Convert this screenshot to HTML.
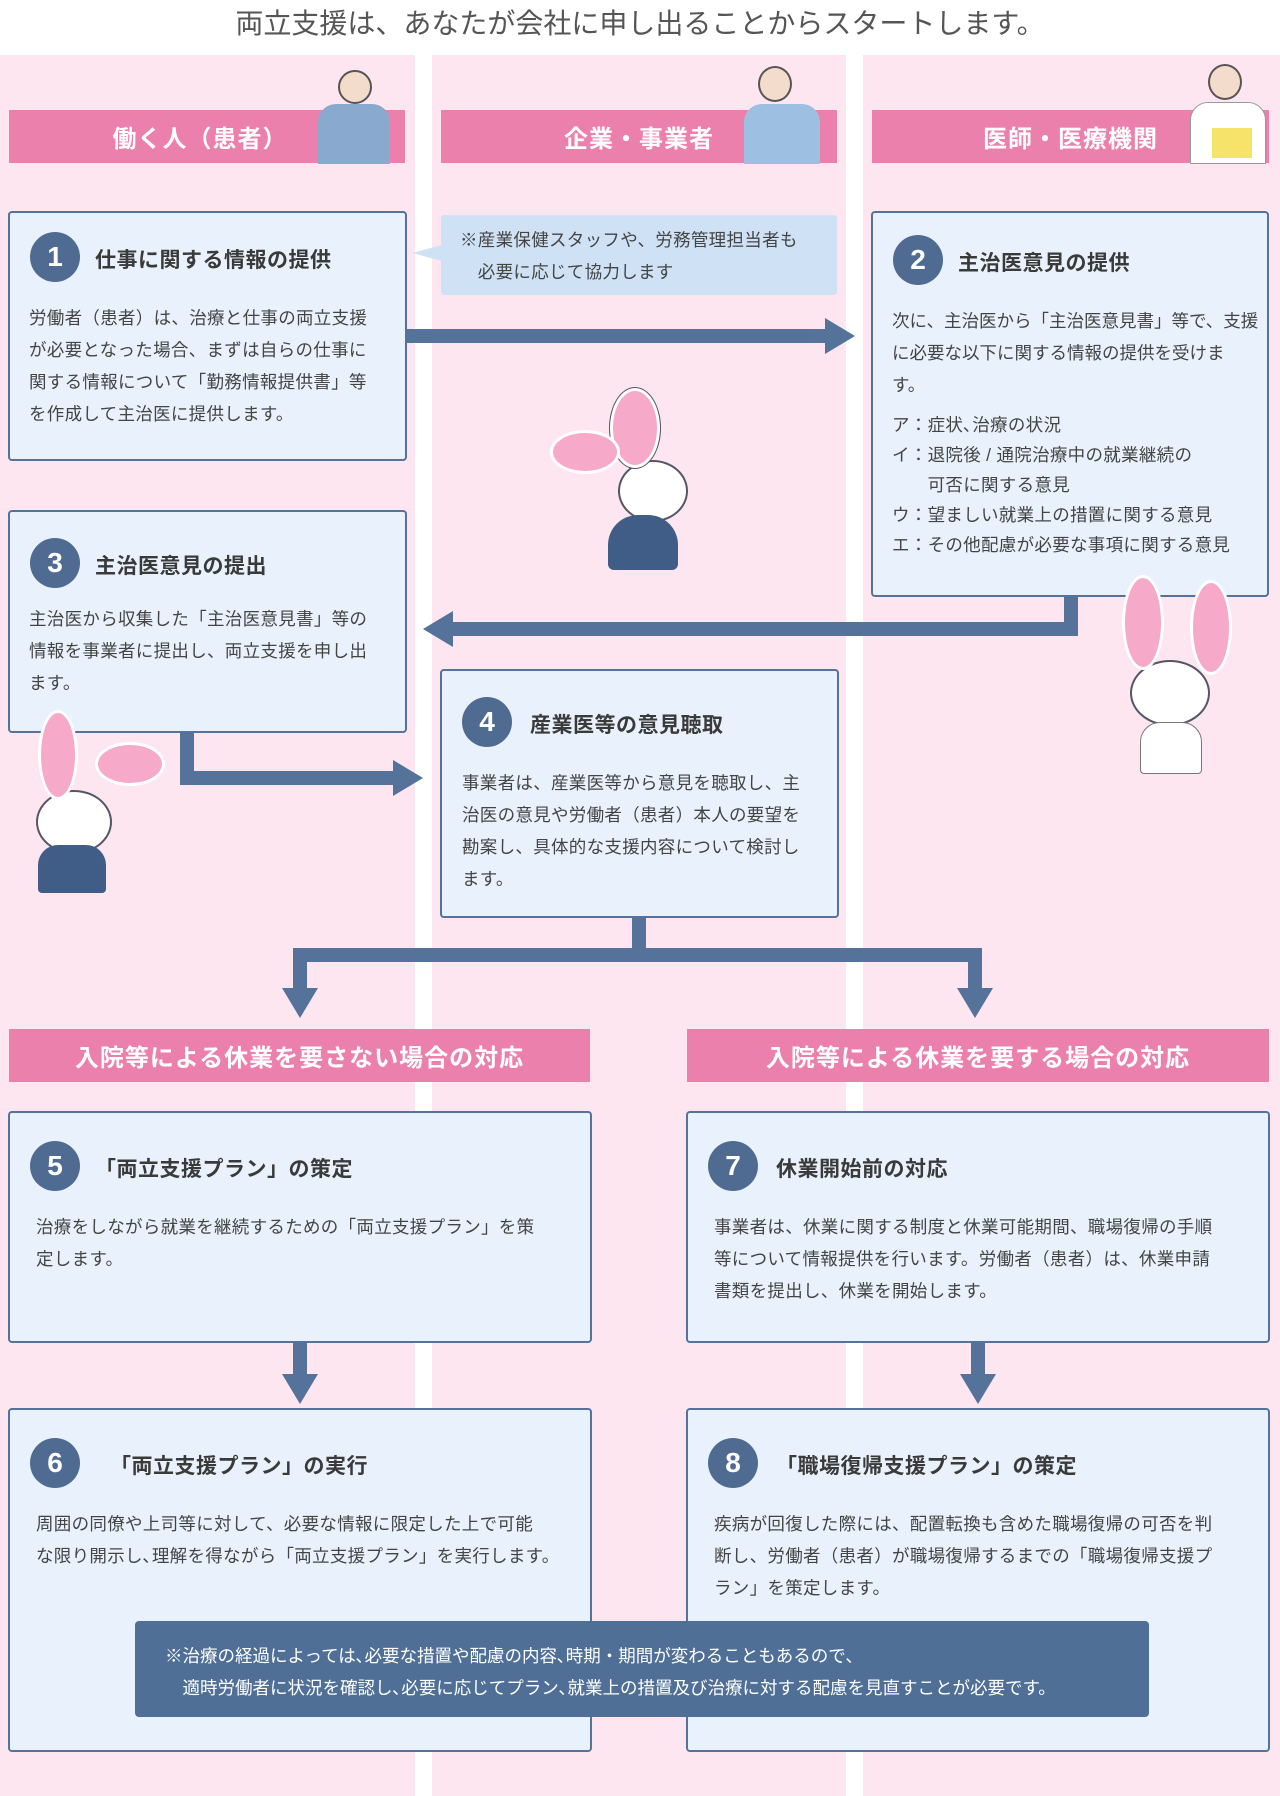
<!DOCTYPE html>
<html><head><meta charset="utf-8"><style>
*{margin:0;padding:0;box-sizing:border-box}
body{width:1280px;height:1796px;position:relative;background:#fff;font-family:"Liberation Sans","Noto Sans CJK JP",sans-serif;color:#3a3a3a;overflow:hidden}
.a{position:absolute}
.col{position:absolute;top:55px;bottom:0;background:#fde6f0}
.hd{position:absolute;background:#ec80ad;color:#fff;font-weight:bold;font-size:24px;display:flex;align-items:center;justify-content:center;letter-spacing:1px}
.bx{position:absolute;background:#e9f2fc;border:2.5px solid #55729b;border-radius:4px}
.num{position:absolute;width:50px;height:50px;border-radius:50%;background:#4f6b91;color:#fff;font-weight:bold;font-size:28px;text-align:center;line-height:50px}
.tt{position:absolute;font-weight:bold;font-size:21px;color:#3a3a3a;letter-spacing:0.5px}
.tx{position:absolute;font-size:17.5px;line-height:32px;color:#444;white-space:nowrap;letter-spacing:0.3px}
.ar{position:absolute;background:#55729b}
</style></head><body>
<div class="a" style="left:0;top:2px;width:1280px;text-align:center;font-size:28px;color:#555">両立支援は、あなたが会社に申し出ることからスタートします。</div>
<div class="col" style="left:0;width:415px"></div>
<div class="col" style="left:432px;width:414px"></div>
<div class="col" style="left:863px;width:417px"></div>

<div class="hd" style="left:9px;top:110px;width:396px;height:53px;padding-right:14px">働く人（患者）</div>
<div class="hd" style="left:441px;top:110px;width:396px;height:53px">企業・事業者</div>
<div class="hd" style="left:872px;top:110px;width:397px;height:53px">医師・医療機関</div>
<div class="a" style="left:338px;top:70px;width:34px;height:34px;border-radius:50%;background:#f3dccb;border:2px solid #555"></div>
<div class="a" style="left:318px;top:104px;width:72px;height:60px;background:#8aa9cf;border-radius:18px 18px 0 0"></div>
<div class="a" style="left:758px;top:66px;width:34px;height:36px;border-radius:50%;background:#f3dccb;border:2px solid #555"></div>
<div class="a" style="left:744px;top:104px;width:76px;height:60px;background:#9dc0e2;border-radius:18px 18px 0 0"></div>
<div class="a" style="left:1208px;top:64px;width:34px;height:36px;border-radius:50%;background:#f3dccb;border:2px solid #555"></div>
<div class="a" style="left:1190px;top:102px;width:76px;height:62px;background:#fff;border:1px solid #999;border-radius:18px 18px 0 0"></div>
<div class="a" style="left:1212px;top:128px;width:40px;height:30px;background:#f5e36a"></div>

<div class="ar" style="left:407px;top:329px;width:420px;height:14px"></div>
<div class="a" style="left:825px;top:318px;border-left:30px solid #55729b;border-top:18px solid transparent;border-bottom:18px solid transparent"></div>
<div class="ar" style="left:1064px;top:597px;width:14px;height:39px"></div>
<div class="ar" style="left:450px;top:622px;width:628px;height:14px"></div>
<div class="a" style="left:423px;top:611px;border-right:30px solid #55729b;border-top:18px solid transparent;border-bottom:18px solid transparent"></div>
<div class="ar" style="left:180px;top:733px;width:14px;height:52px"></div>
<div class="ar" style="left:180px;top:771px;width:215px;height:14px"></div>
<div class="a" style="left:393px;top:760px;border-left:30px solid #55729b;border-top:18px solid transparent;border-bottom:18px solid transparent"></div>
<div class="ar" style="left:632px;top:918px;width:14px;height:40px"></div>
<div class="ar" style="left:293px;top:948px;width:689px;height:14px"></div>
<div class="ar" style="left:293px;top:948px;width:14px;height:42px"></div>
<div class="ar" style="left:968px;top:948px;width:14px;height:42px"></div>
<div class="a" style="left:282px;top:988px;border-top:30px solid #55729b;border-left:18px solid transparent;border-right:18px solid transparent"></div>
<div class="a" style="left:957px;top:988px;border-top:30px solid #55729b;border-left:18px solid transparent;border-right:18px solid transparent"></div>
<div class="ar" style="left:293px;top:1343px;width:14px;height:32px"></div>
<div class="a" style="left:282px;top:1374px;border-top:30px solid #55729b;border-left:18px solid transparent;border-right:18px solid transparent"></div>
<div class="ar" style="left:971px;top:1343px;width:14px;height:32px"></div>
<div class="a" style="left:960px;top:1374px;border-top:30px solid #55729b;border-left:18px solid transparent;border-right:18px solid transparent"></div>

<div class="bx" style="left:8px;top:211px;width:399px;height:250px"></div>
<div class="num" style="left:30px;top:232px">1</div>
<div class="tt" style="left:95px;top:244px">仕事に関する情報の提供</div>
<div class="tx" style="left:29px;top:302px">労働者（患者）は、治療と仕事の両立支援<br>が必要となった場合、まずは自らの仕事に<br>関する情報について「勤務情報提供書」等<br>を作成して主治医に提供します。</div>

<div class="a" style="left:441px;top:215px;width:396px;height:80px;background:#cfe2f5;border-radius:3px"></div>
<div class="a" style="left:412px;top:245px;border-right:30px solid #cfe2f5;border-top:8px solid transparent;border-bottom:8px solid transparent"></div>
<div class="tx" style="left:460px;top:224px">※産業保健スタッフや、労務管理担当者も<br>　必要に応じて協力します</div>

<div class="bx" style="left:871px;top:211px;width:398px;height:386px"></div>
<div class="num" style="left:893px;top:235px">2</div>
<div class="tt" style="left:958px;top:247px">主治医意見の提供</div>
<div class="tx" style="left:892px;top:305px;letter-spacing:0">次に、主治医から「主治医意見書」等で、支援<br>に必要な以下に関する情報の提供を受けま<br>す。</div>
<div class="tx" style="left:892px;top:410px;line-height:30px">ア：症状､治療の状況<br>イ：退院後 / 通院治療中の就業継続の<br>　　可否に関する意見<br>ウ：望ましい就業上の措置に関する意見<br>エ：その他配慮が必要な事項に関する意見</div>

<div class="bx" style="left:8px;top:510px;width:399px;height:223px"></div>
<div class="num" style="left:30px;top:538px">3</div>
<div class="tt" style="left:95px;top:550px">主治医意見の提出</div>
<div class="tx" style="left:29px;top:603px">主治医から収集した「主治医意見書」等の<br>情報を事業者に提出し、両立支援を申し出<br>ます。</div>

<div class="bx" style="left:440px;top:669px;width:399px;height:249px"></div>
<div class="num" style="left:462px;top:697px">4</div>
<div class="tt" style="left:530px;top:709px">産業医等の意見聴取</div>
<div class="tx" style="left:462px;top:767px">事業者は、産業医等から意見を聴取し、主<br>治医の意見や労働者（患者）本人の要望を<br>勘案し、具体的な支援内容について検討し<br>ます。</div>

<div class="a" style="left:618px;top:460px;width:70px;height:62px;border-radius:50%;background:#fff;border:2px solid #556"></div>
<div class="a" style="left:610px;top:388px;width:50px;height:80px;border-radius:50%;background:#f6a9c8;border:3px solid #fff;outline:1px solid #556"></div>
<div class="a" style="left:550px;top:430px;width:70px;height:44px;border-radius:50%;background:#f6a9c8;border:3px solid #fff"></div>
<div class="a" style="left:608px;top:515px;width:70px;height:55px;border-radius:30px 30px 6px 6px;background:#3f5d86"></div>
<div class="a" style="left:1130px;top:660px;width:80px;height:66px;border-radius:50%;background:#fff;border:2px solid #556"></div>
<div class="a" style="left:1122px;top:575px;width:42px;height:95px;border-radius:50%;background:#f6a9c8;border:3px solid #fff"></div>
<div class="a" style="left:1190px;top:580px;width:42px;height:95px;border-radius:50%;background:#f6a9c8;border:3px solid #fff"></div>
<div class="a" style="left:1140px;top:722px;width:62px;height:52px;background:#fff;border:1px solid #777;border-radius:20px 20px 4px 4px"></div>
<div class="a" style="left:36px;top:790px;width:76px;height:64px;border-radius:50%;background:#fff;border:2px solid #556"></div>
<div class="a" style="left:38px;top:710px;width:40px;height:90px;border-radius:50%;background:#f6a9c8;border:3px solid #fff"></div>
<div class="a" style="left:95px;top:742px;width:70px;height:44px;border-radius:50%;background:#f6a9c8;border:3px solid #fff"></div>
<div class="a" style="left:38px;top:845px;width:68px;height:48px;background:#3f5d86;border-radius:20px 20px 4px 4px"></div>

<div class="hd" style="left:9px;top:1029px;width:581px;height:53px">入院等による休業を要さない場合の対応</div>
<div class="hd" style="left:687px;top:1029px;width:582px;height:53px">入院等による休業を要する場合の対応</div>

<div class="bx" style="left:8px;top:1111px;width:584px;height:232px"></div>
<div class="num" style="left:30px;top:1141px">5</div>
<div class="tt" style="left:95px;top:1153px">「両立支援プラン」の策定</div>
<div class="tx" style="left:36px;top:1211px">治療をしながら就業を継続するための「両立支援プラン」を策<br>定します。</div>

<div class="bx" style="left:686px;top:1111px;width:584px;height:232px"></div>
<div class="num" style="left:708px;top:1141px">7</div>
<div class="tt" style="left:776px;top:1153px">休業開始前の対応</div>
<div class="tx" style="left:714px;top:1211px">事業者は、休業に関する制度と休業可能期間、職場復帰の手順<br>等について情報提供を行います。労働者（患者）は、休業申請<br>書類を提出し、休業を開始します。</div>

<div class="bx" style="left:8px;top:1408px;width:584px;height:344px"></div>
<div class="num" style="left:30px;top:1438px">6</div>
<div class="tt" style="left:110px;top:1450px">「両立支援プラン」の実行</div>
<div class="tx" style="left:36px;top:1508px">周囲の同僚や上司等に対して、必要な情報に限定した上で可能<br>な限り開示し､理解を得ながら「両立支援プラン」を実行します。</div>

<div class="bx" style="left:686px;top:1408px;width:584px;height:344px"></div>
<div class="num" style="left:708px;top:1438px">8</div>
<div class="tt" style="left:776px;top:1450px">「職場復帰支援プラン」の策定</div>
<div class="tx" style="left:714px;top:1508px">疾病が回復した際には、配置転換も含めた職場復帰の可否を判<br>断し、労働者（患者）が職場復帰するまでの「職場復帰支援プ<br>ラン」を策定します。</div>

<div class="a" style="left:135px;top:1621px;width:1014px;height:96px;background:#4f6f96;border-radius:4px"></div>
<div class="a" style="left:165px;top:1640px;font-size:17.5px;line-height:32px;color:#fff;white-space:nowrap">※治療の経過によっては､必要な措置や配慮の内容､時期・期間が変わることもあるので､<br>　適時労働者に状況を確認し､必要に応じてプラン､就業上の措置及び治療に対する配慮を見直すことが必要です。</div>
</body></html>
